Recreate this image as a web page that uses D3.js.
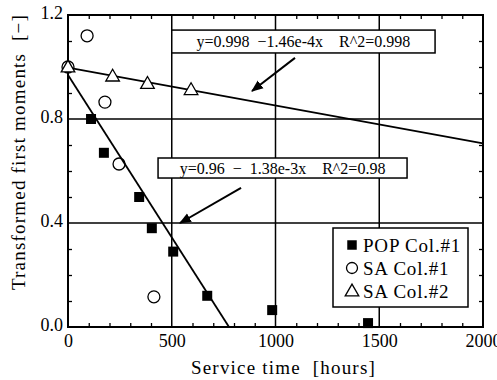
<!DOCTYPE html>
<html>
<head>
<meta charset="utf-8">
<script src="https://cdn.jsdelivr.net/npm/d3@7"></script>
<style>
  html, body { margin: 0; padding: 0; background: #fff; }
  svg { display: block; }
  svg text { font-family: "Liberation Serif", "DejaVu Serif", serif; fill: #000; }
</style>
</head>
<body>
<svg id="chart" width="497" height="380"></svg>
<script>
// data
const popHours = [111, 173, 343, 404, 507, 671, 984, 1446];
const popValues = [0.80, 0.67, 0.50, 0.38, 0.29, 0.12, 0.065, 0.015];

const sa1Hours = [0, 92, 178, 246, 414];
const sa1Values = [1.00, 1.12, 0.865, 0.627, 0.116];

const sa2Hours = [0, 215, 383, 593];
const sa2Values = [1.00, 0.965, 0.937, 0.913];

// fitted lines, end points as drawn
const fit1Hours = [0, 2000];
const fit1Values = [0.998, 0.706];
const fit2Hours = [0, 776];
const fit2Values = [0.969, 0];

const xTickLabels = [0, 500, 1000, 1500, 2000];
const yTickLabels = [0.0, 0.4, 0.8, 1.2];
const xGrid = [500, 1000, 1500];
const yGrid = [0.4, 0.8];

const eq1 = 'y=0.998  \u22121.46e-4x    R^2=0.998';
const eq2 = 'y=0.96  \u2212  1.38e-3x    R^2=0.98';
const legendNames = ['POP Col.#1', 'SA Col.#1', 'SA Col.#2'];

const width = 497, height = 380;
const margin = { top: 15, right: 14, bottom: 53, left: 68 };
const serif = '"Liberation Serif", "DejaVu Serif", serif';

const svg = d3.select('#chart');

const x = d3.scaleLinear().domain([0, 2000]).range([margin.left, width - margin.right]);
const y = d3.scaleLinear().domain([0, 1.2]).range([height - margin.bottom, margin.top]);

const zip = (xs, ys) => xs.map((d, i) => ({ x: d, y: ys[i] }));

// grid
svg.append('g')
  .selectAll('line')
  .data(xGrid)
  .join('line')
  .attr('x1', d => x(d)).attr('x2', d => x(d))
  .attr('y1', y(0)).attr('y2', y(1.2))
  .attr('stroke', '#000').attr('stroke-width', 1.5);

svg.append('g')
  .selectAll('line')
  .data(yGrid)
  .join('line')
  .attr('x1', x(0)).attr('x2', x(2000))
  .attr('y1', d => y(d)).attr('y2', d => y(d))
  .attr('stroke', '#000').attr('stroke-width', 1.5);

// minor ticks, inside on all four sides
const xMinor = d3.range(100, 2000, 100).filter(d => d % 500 !== 0);
const yMinor = d3.range(1, 12).map(d => d / 10).filter(d => Math.abs(d - 0.4) > 1e-6 && Math.abs(d - 0.8) > 1e-6);

const tickStyle = g => {
  g.select('.domain').remove();
  g.selectAll('.tick line').attr('stroke-width', 1.3);
  g.selectAll('.tick text').remove();
};

svg.append('g')
  .attr('transform', `translate(0,${y(0)})`)
  .call(d3.axisBottom(x).tickValues(xMinor).tickSize(-4))
  .call(tickStyle);
svg.append('g')
  .attr('transform', `translate(0,${y(1.2)})`)
  .call(d3.axisTop(x).tickValues(xMinor).tickSize(-4))
  .call(tickStyle);
svg.append('g')
  .attr('transform', `translate(${x(0)},0)`)
  .call(d3.axisLeft(y).tickValues(yMinor).tickSize(-4))
  .call(tickStyle);
svg.append('g')
  .attr('transform', `translate(${x(2000)},0)`)
  .call(d3.axisRight(y).tickValues(yMinor).tickSize(-4))
  .call(tickStyle);

// tick labels
svg.append('g')
  .attr('transform', `translate(0,${y(0)})`)
  .call(d3.axisBottom(x).tickValues(xTickLabels).tickSize(0).tickPadding(7).tickFormat(d3.format('d')))
  .call(g => g.attr('font-family', serif).attr('font-size', 18))
  .call(g => g.select('.domain').remove());

svg.append('g')
  .attr('transform', `translate(${x(0)},0)`)
  .call(d3.axisLeft(y).tickValues(yTickLabels).tickSize(0).tickPadding(5).tickFormat(d3.format('.1f')))
  .call(g => g.attr('font-family', serif).attr('font-size', 18))
  .call(g => g.select('.domain').remove())
  .call(g => g.selectAll('text').attr('dy', '0.2em'));

// frame
svg.append('rect')
  .attr('x', x(0)).attr('y', y(1.2))
  .attr('width', x(2000) - x(0)).attr('height', y(0) - y(1.2))
  .attr('fill', 'none').attr('stroke', '#000').attr('stroke-width', 2);

// fit lines
const line = d3.line().x(d => x(d.x)).y(d => y(d.y));
svg.append('path').datum(zip(fit1Hours, fit1Values))
  .attr('d', line).attr('fill', 'none').attr('stroke', '#000').attr('stroke-width', 1.8);
svg.append('path').datum(zip(fit2Hours, fit2Values))
  .attr('d', line).attr('fill', 'none').attr('stroke', '#000').attr('stroke-width', 1.8);

// markers
const square = d3.symbol().type(d3.symbolSquare).size(100);
const triangle = d3.symbol().type(d3.symbolTriangle).size(80);

svg.append('g').selectAll('path')
  .data(zip(popHours, popValues))
  .join('path')
  .attr('transform', d => `translate(${x(d.x)},${y(d.y)})`)
  .attr('d', square).attr('fill', '#000');

svg.append('g').selectAll('circle')
  .data(zip(sa1Hours, sa1Values))
  .join('circle')
  .attr('cx', d => x(d.x)).attr('cy', d => y(d.y)).attr('r', 6)
  .attr('fill', 'none').attr('stroke', '#000').attr('stroke-width', 1.3);

svg.append('g').selectAll('path')
  .data(zip(sa2Hours, sa2Values))
  .join('path')
  .attr('transform', d => `translate(${x(d.x)},${y(d.y) + 1})`)
  .attr('d', triangle).attr('fill', '#fff').attr('stroke', '#000').attr('stroke-width', 1.3);

// arrows
const defs = svg.append('defs');
defs.append('marker')
  .attr('id', 'head')
  .attr('viewBox', '0 0 10 10')
  .attr('refX', 9).attr('refY', 5)
  .attr('markerWidth', 6).attr('markerHeight', 6)
  .attr('markerUnits', 'strokeWidth')
  .attr('orient', 'auto')
  .append('path').attr('d', 'M0,1 L10,5 L0,9 Z').attr('fill', '#000');

const arrows = [
  { from: [1094, 1.035], to: [887, 0.908] },
  { from: [834, 0.535], to: [540, 0.40] }
];
svg.append('g').selectAll('line')
  .data(arrows)
  .join('line')
  .attr('x1', d => x(d.from[0])).attr('y1', d => y(d.from[1]))
  .attr('x2', d => x(d.to[0])).attr('y2', d => y(d.to[1]))
  .attr('stroke', '#000').attr('stroke-width', 2)
  .attr('marker-end', 'url(#head)');

// equation boxes
const boxes = [
  { text: eq1, x0: 500, x1: 1769, y0: 1.142, y1: 1.054 },
  { text: eq2, x0: 434, x1: 1634, y0: 0.65, y1: 0.573 }
];
const bg = svg.append('g').selectAll('g').data(boxes).join('g');
bg.append('rect')
  .attr('x', d => x(d.x0)).attr('y', d => y(d.y0))
  .attr('width', d => x(d.x1) - x(d.x0)).attr('height', d => y(d.y1) - y(d.y0))
  .attr('fill', '#fff').attr('stroke', '#000').attr('stroke-width', 1.5);
bg.append('text')
  .attr('x', d => (x(d.x0) + x(d.x1)) / 2)
  .attr('y', d => (y(d.y0) + y(d.y1)) / 2)
  .attr('dy', '0.35em')
  .attr('text-anchor', 'middle')
  .attr('font-size', 16)
  .style('white-space', 'pre')
  .text(d => d.text);

// legend
const lg = svg.append('g');
lg.append('rect')
  .attr('x', 333).attr('y', 228).attr('width', 135).attr('height', 79)
  .attr('fill', '#fff').attr('stroke', '#000').attr('stroke-width', 1.5);
const legendSymbols = [
  s => s.append('path').attr('d', square.size(90)).attr('fill', '#000'),
  s => s.append('circle').attr('r', 5.5).attr('fill', 'none').attr('stroke', '#000').attr('stroke-width', 1.3),
  s => s.append('path').attr('d', triangle.size(80)).attr('transform', 'translate(0,1)').attr('fill', 'none').attr('stroke', '#000').attr('stroke-width', 1.3)
];
legendNames.forEach((name, i) => {
  const row = lg.append('g').attr('transform', `translate(352,${245 + i * 23})`);
  legendSymbols[i](row);
  row.append('text').attr('x', 11).attr('dy', '0.35em').attr('font-size', 19)
    .style('letter-spacing', '0.8px').text(name);
});

// axis titles
svg.append('text')
  .attr('x', (x(0) + x(2000)) / 2 + 8).attr('y', 374)
  .attr('text-anchor', 'middle').attr('font-size', 19)
  .style('letter-spacing', '1.2px')
  .style('white-space', 'pre')
  .text('Service time  [hours]');

svg.append('text')
  .attr('transform', `translate(25,${152}) rotate(-90)`)
  .attr('text-anchor', 'middle').attr('font-size', 19)
  .style('letter-spacing', '1.2px')
  .style('white-space', 'pre')
  .text('Transformed first moments  [\u2212]');
</script>
</body>
</html>
